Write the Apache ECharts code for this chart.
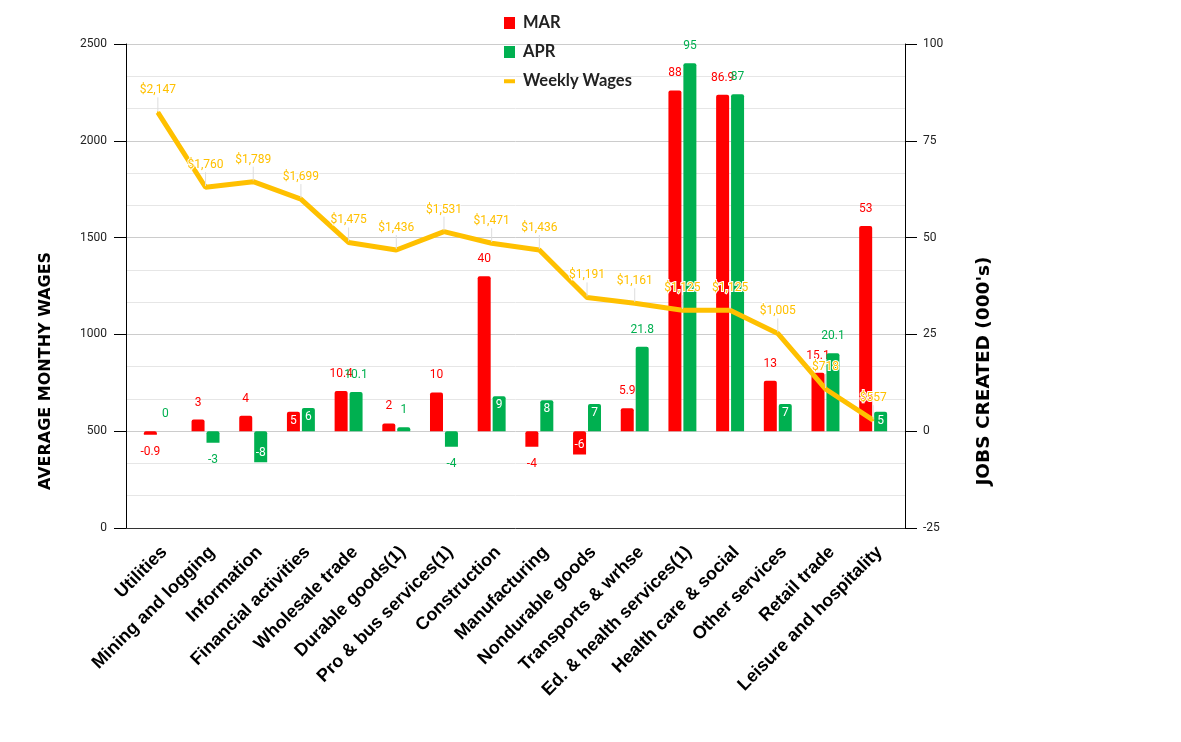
<!DOCTYPE html>
<html><head><meta charset="utf-8">
<script src="https://cdn.jsdelivr.net/npm/echarts@6/dist/echarts.min.js"></script>
<style>html,body{margin:0;padding:0;background:#fff}#c{width:1181px;height:742px}</style>
</head><body><div id="c"></div><script>
const categories = ['Utilities','Mining and logging','Information','Financial activities','Wholesale trade','Durable goods(1)','Pro & bus services(1)','Construction','Manufacturing','Nondurable goods','Transports & wrhse','Ed. & health services(1)','Health care & social','Other services','Retail trade','Leisure and hospitality'];
const marJobs = [-0.9, 3, 4, 5, 10.4, 2, 10, 40, -4, -6, 5.9, 88, 86.9, 13, 15.1, 53];
const aprJobs = [0, -3, -8, 6, 10.1, 1, -4, 9, 8, 7, 21.8, 95, 87, 7, 20.1, 5];
const weeklyWages = [2147, 1760, 1789, 1699, 1475, 1436, 1531, 1471, 1436, 1191, 1161, 1125, 1125, 1005, 718, 557];
const wageAxis = {min: 0, max: 2500, interval: 500};
const jobsAxis = {min: -25, max: 100, interval: 25};
// indices whose value label sits inside the bar
const marInside = [3, 9];
const aprInside = [2, 3, 7, 8, 9, 13, 15];

const RED = '#FF0000', GREEN = '#00B050', GOLD = '#FFC000';

function barItems(vals, insideIdx, color) {
  return vals.map((v, i) => {
    const inside = insideIdx.includes(i);
    const pos = inside ? (v < 0 ? 'insideBottom' : 'insideTop') : (v < 0 ? 'bottom' : 'top');
    return {value: v, label: {position: pos, color: inside ? '#fff' : color, distance: inside ? 3 : 11}};
  });
}

const chart = echarts.init(document.getElementById('c'));
const tickLabel = {fontFamily: 'Roboto', fontSize: 12, color: '#222', formatter: v => String(v)};
chart.setOption({
  animation: false,
  backgroundColor: '#fff',
  grid: [
    {left: 126, right: 276, top: 44, bottom: 214, outerBoundsMode: 'none'},
    {left: 134, right: 284, top: 44, bottom: 214, outerBoundsMode: 'none'}
  ],
  legend: {
    orient: 'vertical', left: 499, top: 9, itemWidth: 11, itemHeight: 12, itemGap: 11,
    textStyle: {fontFamily: 'Lato', fontWeight: 'bold', fontSize: 16.5, color: '#222', lineHeight: 18, padding: [0, 0, 0, 3]},
    data: [
      {name: 'MAR', icon: 'rect'},
      {name: 'APR', icon: 'rect'},
      {name: 'Weekly Wages', icon: 'path://M0,0L0.01,0L0.01,0.01ZM0,4L12,4L12,8.5L0,8.5ZM0,12L0.01,12L0.01,12.01Z'}
    ]
  },
  xAxis: [
    {type: 'category', gridIndex: 0, data: categories,
      axisLine: {show: true, lineStyle: {color: '#333', width: 1}},
      axisTick: {show: false}, axisLabel: {show: false}, splitLine: {show: false}},
    {type: 'category', gridIndex: 1, data: categories,
      axisLine: {show: false}, axisTick: {show: false}, splitLine: {show: false},
      axisLabel: {interval: 0, rotate: 45, margin: 15, verticalAlign: 'top', align: 'right',
        fontFamily: 'Liberation Sans', fontWeight: 'bold', fontSize: 18, color: '#000'}}
  ],
  yAxis: [
    {type: 'value', gridIndex: 0, position: 'left', min: wageAxis.min, max: wageAxis.max, interval: wageAxis.interval,
      axisLine: {show: true, lineStyle: {color: '#000'}},
      axisTick: {show: true, length: 12, lineStyle: {color: '#000'}},
      axisLabel: Object.assign({margin: 19}, tickLabel),
      splitLine: {show: true, lineStyle: {color: '#cccccc'}},
      minorTick: {show: false, splitNumber: 3},
      minorSplitLine: {show: true, lineStyle: {color: '#e6e6e6'}}},
    {type: 'value', gridIndex: 0, position: 'right', min: jobsAxis.min, max: jobsAxis.max, interval: jobsAxis.interval,
      axisLine: {show: true, lineStyle: {color: '#000'}},
      axisTick: {show: true, length: 12, lineStyle: {color: '#000'}},
      axisLabel: Object.assign({margin: 18}, tickLabel),
      splitLine: {show: false}},
    {type: 'value', gridIndex: 1, show: false, min: wageAxis.min, max: wageAxis.max, interval: wageAxis.interval, splitLine: {show: false}},
    {type: 'value', gridIndex: 1, show: false, min: jobsAxis.min, max: jobsAxis.max, interval: jobsAxis.interval, splitLine: {show: false}}
  ],
  series: [
    {name: 'MAR', type: 'bar', xAxisIndex: 1, yAxisIndex: 3, barWidth: 13, barGap: '15%',
      itemStyle: {color: RED, borderRadius: [2, 2, 0, 0]},
      label: {show: true, fontFamily: 'Roboto', fontSize: 12, formatter: '{c}'},
      data: barItems(marJobs, marInside, RED), z: 2},
    {name: 'APR', type: 'bar', xAxisIndex: 1, yAxisIndex: 3, barWidth: 13, barGap: '15%',
      itemStyle: {color: GREEN, borderRadius: [2, 2, 0, 0]},
      label: {show: true, fontFamily: 'Roboto', fontSize: 12, formatter: '{c}'},
      data: barItems(aprJobs, aprInside, GREEN), z: 3},
    {name: 'Weekly Wages', type: 'line', xAxisIndex: 1, yAxisIndex: 2, z: 5,
      symbol: 'circle', symbolSize: 2, showSymbol: true,
      itemStyle: {color: GOLD}, lineStyle: {color: GOLD, width: 5},
      label: {show: true, position: 'top', distance: 5, fontFamily: 'Roboto', fontSize: 12, color: GOLD,
        textBorderColor: '#fff', textBorderWidth: 2,
        formatter: p => '$' + p.value.toLocaleString('en-US')},
      labelLayout: {dy: -10},
      labelLine: {show: true, lineStyle: {color: '#dddddd', width: 1}},
      data: weeklyWages}
  ],
  graphic: [
    {type: 'text', x: 46, y: 371, rotation: Math.PI / 2,
      style: {text: 'AVERAGE MONTHY WAGES', font: 'bold 16px "DejaVu Sans"', fill: '#000', align: 'center', verticalAlign: 'middle'}},
    {type: 'text', x: 984, y: 371, rotation: Math.PI / 2,
      style: {text: "JOBS CREATED (000's)", font: 'bold 18.5px "DejaVu Sans"', fill: '#000', align: 'center', verticalAlign: 'middle'}}
  ]
});
</script></body></html>
